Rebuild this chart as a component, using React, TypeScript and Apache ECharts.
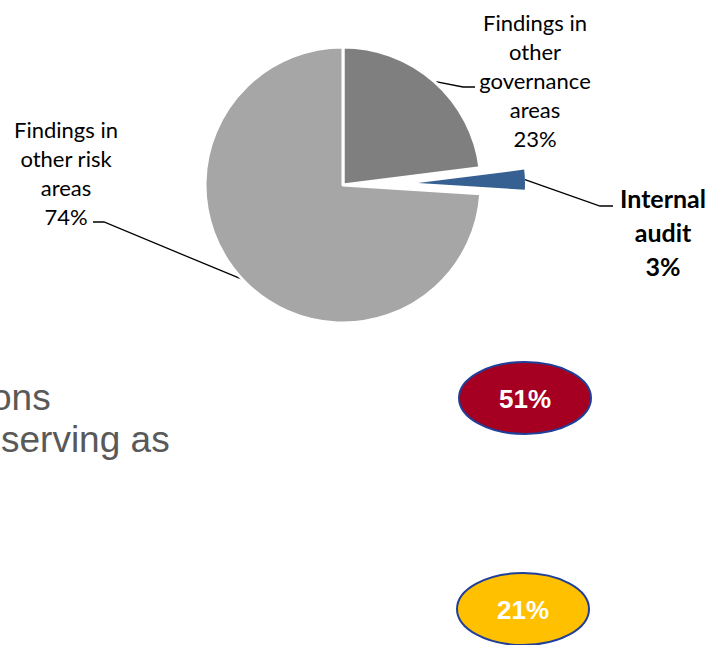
import React, { useEffect, useRef } from 'react';
import * as echarts from 'echarts';

const categories = ['Findings in other governance areas', 'Internal audit', 'Findings in other risk areas'];
const labelTexts = ['Findings in\nother\ngovernance\nareas', 'Internal\naudit', 'Findings in\nother risk\nareas'];
const shares = [23, 3, 74];
const sliceColors = ['#7F7F7F', '#376092', '#A6A6A6'];
const badgeValues = [51, 21];
const badgeColors = ['#A50021', '#FFC000'];
const sideTexts = ['ons', 'serving as'];

const LABEL_FONT = 'Lato, "Open Sans", sans-serif';
const CLEAR = 'rgba(0,0,0,0)';

export default function App() {
  const ref = useRef<HTMLDivElement>(null);
  useEffect(() => {
    if (!ref.current) return;
    const chart = echarts.init(ref.current, undefined, { renderer: 'svg' });
    const fmt = (p: any) => `${labelTexts[p.dataIndex]}\n${p.value}%`;
    const edge = (p: any, fx: number, fy: number) =>
      p.labelLinePoints && p.labelLinePoints[0] ? p.labelLinePoints[0] : [fx, fy];

    const badgeCenters = [[525, 398], [523, 609]];

    chart.setOption({
      animation: false,
      backgroundColor: '#ffffff',
      series: [
        {
          type: 'pie',
          center: [343, 185],
          radius: 138,
          startAngle: 90,
          clockwise: true,
          silent: true,
          avoidLabelOverlap: false,
          data: shares.map((v, i) => ({
            name: categories[i],
            value: v,
            itemStyle: {
              color: i === 1 ? CLEAR : sliceColors[i],
              borderColor: i === 1 ? CLEAR : '#ffffff',
              borderWidth: i === 1 ? 0 : 3,
            },
            label: { show: i !== 1 },
            labelLine: { show: i !== 1 },
          })),
          label: {
            show: true,
            position: 'outside',
            formatter: fmt,
            fontFamily: LABEL_FONT,
            fontSize: 22,
            lineHeight: 29,
            color: '#000000',
            align: 'center',
          },
          labelLine: { show: true, length: 20, length2: 10, lineStyle: { color: '#000000', width: 1.3 } },
          labelLayout: (p: any) => {
            if (p.dataIndex === 0) {
              return {
                x: 535, y: 80, align: 'center', verticalAlign: 'middle',
                labelLinePoints: [edge(p, 433, 81), [463, 87], [475, 87]],
              };
            }
            if (p.dataIndex === 2) {
              return {
                x: 66, y: 173, align: 'center', verticalAlign: 'middle',
                labelLinePoints: [edge(p, 241, 279), [104, 222], [93, 222]],
              };
            }
            return {};
          },
        },
        {
          type: 'pie',
          center: [418, 183],
          radius: 107,
          startAngle: 90,
          clockwise: true,
          silent: true,
          avoidLabelOverlap: false,
          data: shares.map((v, i) => ({
            name: categories[i],
            value: v,
            itemStyle: { color: i === 1 ? sliceColors[1] : CLEAR },
            label: { show: i === 1 },
            labelLine: { show: i === 1 },
          })),
          label: {
            show: true,
            position: 'outside',
            formatter: fmt,
            fontFamily: LABEL_FONT,
            fontWeight: 'bold',
            fontSize: 25,
            lineHeight: 34,
            color: '#000000',
            align: 'center',
          },
          labelLine: { show: true, length: 20, length2: 10, lineStyle: { color: '#000000', width: 1.3 } },
          labelLayout: (p: any) => {
            if (p.dataIndex === 1) {
              return {
                x: 663, y: 232, align: 'center', verticalAlign: 'middle',
                labelLinePoints: [edge(p, 527, 180), [600, 206], [613, 206]],
              };
            }
            return {};
          },
        },
      ],
      graphic: [
        {
          type: 'text', x: -9, y: 379, silent: true,
          style: { text: sideTexts[0], fill: '#595959', font: '37px "Liberation Sans", Arial, sans-serif' },
        },
        {
          type: 'text', x: 1, y: 421, silent: true,
          style: { text: sideTexts[1], fill: '#595959', font: '37px "Liberation Sans", Arial, sans-serif' },
        },
        ...badgeValues.map((v, i) => ({
          type: 'group',
          silent: true,
          children: [
            {
              type: 'ellipse',
              shape: { cx: badgeCenters[i][0], cy: badgeCenters[i][1], rx: 66, ry: 36 },
              style: { fill: badgeColors[i], stroke: '#1F3F99', lineWidth: 2 },
            },
            {
              type: 'text',
              x: badgeCenters[i][0],
              y: badgeCenters[i][1] + 1,
              style: {
                text: `${v}%`,
                fill: '#ffffff',
                font: 'bold 26px "Liberation Sans", Arial, sans-serif',
                align: 'center',
                verticalAlign: 'middle',
              },
            },
          ],
        })),
      ],
    });
    return () => chart.dispose();
  }, []);
  return (
    <div
      ref={ref}
      style={{ position: 'fixed', left: 0, top: 0, width: 709, height: 645, background: '#fff' }}
    />
  );
}
